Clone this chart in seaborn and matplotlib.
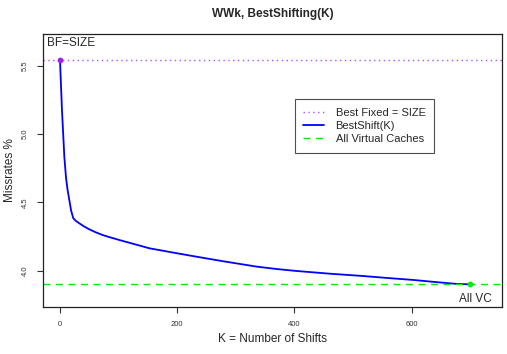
import matplotlib
matplotlib.use("Agg")
import matplotlib.pyplot as plt
import seaborn as sns
import pandas as pd

# Data
k_shifts = [0, 3.4, 7.4, 10.3, 13, 15.9, 19, 22.7, 27, 33, 40, 50, 60, 72.8, 85, 101, 118, 135,
            152.6, 190, 232, 280, 335, 370, 403, 460, 517, 560, 603, 640, 677, 700]
missrates = [5.542, 5.175, 4.835, 4.68, 4.59, 4.518, 4.44, 4.384, 4.365, 4.347, 4.327, 4.303, 4.283,
             4.261, 4.245, 4.225, 4.205, 4.185, 4.164, 4.135, 4.103, 4.068, 4.03, 4.012, 3.998,
             3.978, 3.961, 3.946, 3.932, 3.917, 3.903, 3.90]
best_fixed = 5.542
all_vc = 3.90
x_ticks = [0, 200, 400, 600]
y_ticks = [4.0, 4.5, 5.0, 5.5]

sns.set_style("ticks")
plt.rcParams['font.family'] = ['Liberation Sans', 'DejaVu Sans']

fig = plt.figure(figsize=(5.07, 3.54), dpi=100)
ax = fig.add_axes([0.0848, 0.1328, 0.9052, 0.7712])

df = pd.DataFrame({"K": k_shifts, "Miss": missrates})
ax.axhline(best_fixed, color="#b44dff", linestyle=(0, (1, 2.5)), linewidth=1.0, label="Best Fixed = SIZE")
sns.lineplot(data=df, x="K", y="Miss", ax=ax, color="#0000ff", linewidth=1.3, label="BestShift(K)")
ax.axhline(all_vc, color="#00ee00", linestyle=(0, (5, 4)), linewidth=1.0, label="All Virtual Caches")
ax.scatter([k_shifts[0]], [missrates[0]], color="#a020f0", s=10, zorder=5)
ax.scatter([k_shifts[-1]], [missrates[-1]], color="#00ee00", s=10, zorder=5)

ax.text(-22, 5.665, "BF=SIZE", fontsize=8.5, ha="left", va="center")
ax.text(736, 3.79, "All VC", fontsize=8.5, ha="right", va="center")

ax.set_xlim(-29, 754)
ax.set_ylim(3.734, 5.734)
ax.set_xticks(x_ticks)
ax.set_xticklabels([str(v) for v in x_ticks])
ax.set_yticks(y_ticks)
ax.set_yticklabels([f"{v:.1f}" for v in y_ticks], rotation=90, va="center")
ax.tick_params(axis="both", labelsize=5.5, length=4, width=0.8, colors="#333333", pad=6)
for s in ax.spines.values():
    s.set_visible(True)
    s.set_linewidth(0.9)
    s.set_color("#222222")

ax.set_xlabel("K = Number of Shifts", fontsize=8.5)
ax.set_ylabel("Missrates %", fontsize=8.5)
ax.xaxis.set_label_coords(0.5, -0.095)
ax.yaxis.set_label_coords(-0.059, 0.5)
ax.set_title("WWk, BestShifting(K)", fontsize=8.5, fontweight="bold", pad=12)

leg = ax.legend(loc="upper left", bbox_to_anchor=(0.549, 0.761), borderaxespad=0, fontsize=8,
                frameon=True, fancybox=False, edgecolor="#222222", handlelength=1.9,
                borderpad=0.75, labelspacing=0.3, handletextpad=1.0)
leg.get_frame().set_linewidth(0.8)

fig.savefig("out.png", dpi=100)
